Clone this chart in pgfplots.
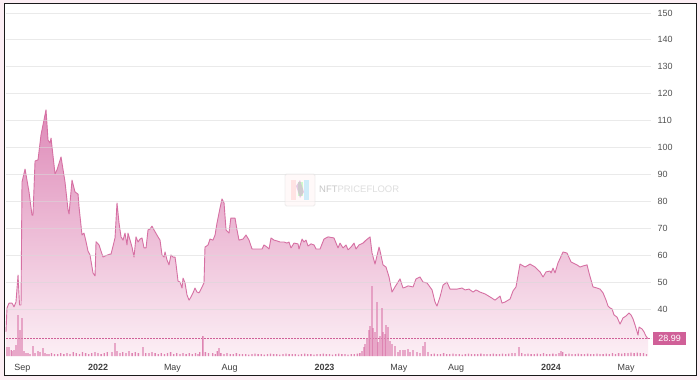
\documentclass[border=0pt]{standalone}
\usepackage{fontspec}
\setmainfont{Liberation Sans}
\usepackage{pgfplots}
\usepackage{pgfplotstable}
\pgfplotsset{compat=1.18}
\definecolor{linepink}{RGB}{214,112,163}
\definecolor{fillTop}{RGB}{222,138,184}
\definecolor{fillBot}{RGB}{252,239,245}
\definecolor{volpink}{RGB}{222,132,178}
\definecolor{tagpink}{RGB}{208,96,152}
\definecolor{bgpink}{RGB}{252,238,244}
\definecolor{framecol}{RGB}{26,26,26}

\pgfplotstableread{
day price
-148.3 31.5
-146.7 40.4
-143.4 42.2
-138.6 42.2
-135.4 40.8
-132.2 42.6
-128.9 52.6
-126.5 41.5
-124.1 41.5
-122.5 87.2
-117.6 92.0
-111.2 83.5
-106.4 74.9
-104.8 74.9
-101.5 95.0
-96.7 95.4
-91.9 104.7
-83.8 114.0
-80.6 102.8
-77.4 101.7
-75.7 103.5
-69.3 90.2
-66.1 91.7
-59.6 96.5
-53.2 87.2
-48.3 76.8
-46.7 75.3
-41.9 87.9
-37.1 83.5
-32.2 82.7
-30.6 77.9
-25.8 67.5
-22.6 68.2
-19.3 65.0
-16.1 61.5
-12.9 60.1
-8.1 53.4
-4.8 52.3
-3.2 65.0
1.6 63.8
8.1 59.3
11.3 59.7
19.3 60.4
21.0 60.4
27.4 66.4
30.6 79.4
33.8 72.0
37.1 66.8
40.3 65.6
43.5 68.2
46.7 63.8
48.3 68.2
51.6 65.6
54.8 63.0
58.0 59.3
61.2 66.8
64.5 64.9
67.7 66.0
70.9 66.4
74.1 62.7
77.4 62.7
80.6 69.4
83.8 69.7
87.0 70.8
90.2 69.4
96.7 66.8
99.9 65.6
103.1 60.1
106.4 59.3
108.0 61.2
111.2 58.2
114.4 56.4
117.6 60.1
120.9 59.3
124.1 59.3
125.7 56.7
128.9 50.4
132.2 50.0
135.4 47.8
137.0 51.5
140.2 49.7
143.4 45.2
146.7 43.3
149.9 44.5
153.1 46.0
156.3 47.8
159.5 46.3
162.8 46.0
166.0 47.4
170.8 49.7
172.4 63.0
177.3 63.8
180.5 66.0
185.3 65.6
188.6 67.5
191.8 72.0
196.6 77.5
199.8 80.9
203.1 79.4
206.3 69.4
211.1 68.2
214.0 73.8
220.8 73.8
224.0 69.4
227.2 65.6
233.7 66.0
238.5 67.5
243.4 65.6
248.2 62.3
264.3 62.3
267.5 63.8
272.4 63.0
275.6 62.3
278.8 66.4
283.6 65.6
288.5 65.3
293.3 64.9
299.8 64.9
304.6 64.5
307.8 64.9
311.0 62.7
315.9 64.5
322.3 64.2
323.9 62.3
328.8 66.0
332.0 64.9
335.2 65.6
338.4 63.4
343.3 64.2
348.1 63.8
351.3 62.3
357.8 62.3
364.2 66.0
370.7 66.8
380.3 66.4
383.6 64.5
386.8 62.7
390.0 64.5
394.8 62.7
399.7 63.8
402.9 62.0
407.7 63.0
412.6 64.5
415.8 62.3
420.6 63.8
427.1 64.5
431.9 65.6
438.4 66.8
441.6 60.8
446.4 56.7
452.9 63.0
454.5 61.6
459.3 56.4
464.1 55.6
469.0 51.9
473.8 46.3
478.6 48.2
486.7 51.2
491.5 47.8
496.4 48.2
499.6 48.6
507.7 48.2
512.5 51.2
518.9 51.9
523.8 50.0
530.2 49.7
538.3 47.1
543.1 42.6
546.3 41.1
551.2 44.5
556.0 48.9
562.4 50.0
567.3 47.4
578.6 47.4
586.6 47.8
591.5 47.1
597.9 47.4
604.4 46.3
609.2 47.1
615.6 46.3
623.7 45.6
631.7 44.5
639.8 43.3
647.9 44.8
651.1 42.2
655.9 42.6
664.0 43.7
668.8 46.7
673.6 48.2
680.1 56.7
688.2 55.6
696.2 56.7
704.3 55.6
712.3 53.8
717.2 51.9
722.0 53.8
728.4 54.1
730.1 53.4
733.3 55.2
736.5 53.4
741.3 57.1
749.4 61.2
755.8 60.8
762.3 57.5
771.9 56.4
776.8 55.6
781.6 56.0
788.1 56.4
791.3 53.4
797.7 48.2
804.2 47.8
809.0 47.4
813.9 46.0
818.7 43.3
821.9 41.1
825.2 40.4
828.4 40.0
831.6 37.8
836.4 37.0
841.3 34.4
846.1 36.7
850.9 37.4
855.8 38.5
859.0 37.8
862.2 36.3
865.4 34.1
870.3 30.3
871.9 33.3
876.7 32.6
879.9 31.5
883.1 29.9
886.4 28.99
}\pricetable

\pgfplotstableread{
day vol
-146.7 9
-143.4 9
-140.0 6
-138.6 5
-135.4 6
-132.2 11
-128.9 41
-125.7 26
-122.5 38
-119.3 5
-116.0 3
-112.8 3
-109.6 2
-104.8 10
-101.5 3
-96.7 5
-93.5 4
-88.6 8
-85.4 3
-82.2 2
-79.0 2
-75 3
-70 2
-65 2
-60 3
-55 2
-50 3
-45 2
-40 4
-35 3
-30 2
-25 4
-20 3
-15 2
-10 3
-5 4
0 3
5 2
10 3
15 4
22.6 4
27.4 13
30.6 5
35.5 3
40 4
45 3
50 5
55 3
60 4
65 3
72.5 9
77 3
82 3
87 4
92 3
97 2
102 3
107 2
112 3
117 4
122 2
127 3
132 2
137 3
142 2
147 3
152 2
157 3
161 2
164 4
169 20
173 4
178 3
185 3
189 2
192 5
195 8
198 3
203 2
208 3
213 2
218 2
223 3
228 2
233 2
238 2
243 1.5
248 2
253 2.5
258 2
263 2
268 1.5
273 2
278 2.5
283 2
288 2
293 1.5
298 2
303 2.5
308 2
313 2
318 2
323 1.5
328 2
333 2.5
338 2
343 2
348 1.5
353 2
358 2
363 2.5
368 2
373 2
378 1.5
383 2
388 2.5
393 2
398 2
403 1.5
408 2
413 2
418 2.5
422 3
425.5 5
428.7 9
430.3 12
433.5 18
436.7 26
438.4 30
441.6 70
443.2 28
446.4 24
449.6 54
451.2 14
454.5 20
457.7 48
459.3 24
462.5 22
464.1 31
467.4 29
470.6 15
473.8 12
478.6 10
483.5 4
486.7 6
491.5 6
494.8 6
499.6 7
502.8 4
507.7 6
514.1 4
518.9 3
523.8 10
527.0 14
531.8 4
537 2
542 2.5
547 2
552 2
557 3
562 2
567 2
572 2.5
577 2
582 2
587 1.5
592 2
597 2.5
602 2
607 2
612 2
617 2.5
622 2
627 2
632 2
637 2.5
642 2
647 2
652 2.5
657 2
662 2.5
667 3
672 3
678.5 9
683 3
688 2
693 2.5
698 2
703 2
708 2.5
713 2
718 3
723 2
728 2
733 2.5
738 2
743 3
746.2 5
749 4
754 2
759 2.5
764 2
769 2
774 2.5
779 2
784 2
789 2.5
794 2
799 2
804 2.5
809 2
814 2
819 2.5
824 2
829 3
834 2
839 3
844 2.5
849 3
854 3
859 3.5
864 3
869 3.5
874 3
879 3
884 2
}\voltable

\begin{document}
\begin{tikzpicture}[x=1bp,y=1bp]
\fill[bgpink] (0,0) rectangle (700,380);
\fill[white] (4.5,4.5) rectangle (696.5,376.5);

\begin{axis}[
  at={(6bp,24bp)}, anchor=south west, scale only axis,
  width=645bp, height=348.4bp,
  xmin=-148.3, xmax=891.2, ymin=22.54, ymax=152,
  clip=false,
  axis line style={draw=none},
  major tick length=0pt,
  /pgf/number format/assume math mode=true,
  ytick={40,50,...,150},
  yticklabel pos=right,
  yticklabel style={anchor=west, xshift=3bp, font=\fontsize{9}{10}\selectfont, text=black!68},
  xtick={-122,0,120,212,365,485,577,730,851},
  xticklabels={Sep,\textbf{2022},May,Aug,\textbf{2023},May,Aug,\textbf{2024},May},
  xticklabel style={anchor=base, yshift=-14bp, font=\fontsize{9}{10}\selectfont, text=black!75},
  ymajorgrids,
  grid style={color=gray!30, opacity=0.55, line width=0.8bp},
  axis on top,
]
\addplot[draw=none, top color=fillTop, bottom color=fillBot] table[x=day, y=price] {\pricetable} \closedcycle;
\addplot[linepink, line width=0.9bp, line join=round] table[x=day, y=price] {\pricetable};
\addplot[tagpink, line width=0.8bp, dash pattern=on 1.5bp off 1.5bp] coordinates {(-148.3,28.99) (891.2,28.99)};
\node[anchor=west, xshift=2bp, fill=tagpink, text=white, inner sep=0pt, minimum width=33bp, minimum height=13bp, font=\fontsize{9}{10}\selectfont] at (axis cs:891.2,28.99) {28.99};
\end{axis}

\begin{axis}[
  at={(6bp,24bp)}, anchor=south west, scale only axis,
  width=645bp, height=348.4bp,
  xmin=-148.3, xmax=891.2, ymin=0, ymax=348.4,
  hide axis,
]
\addplot[ybar, bar width=1.3bp, fill=volpink, draw=none] table[x=day, y=vol] {\voltable};
\end{axis}

% watermark
\begin{scope}[opacity=0.55]
\draw[rounded corners=1.5bp, draw=black!12, fill=pink!15, line width=0.8bp] (285,174) rectangle (315,206);
\fill[pink!70] (291,180) rectangle (296,200);
\fill[green!35] (298,184) rectangle (303,198);
\fill[cyan!35] (304,180) rectangle (309,200);
\fill[violet!35] (296,194) -- (300,200) -- (304,188) -- (300,182) -- cycle;
\end{scope}
\node[anchor=west, inner sep=0pt, font=\fontsize{9.5}{10}\selectfont] at (319,191) {\textcolor{black!22}{NFT}\textcolor{black!13}{PRICEFLOOR}};

\draw[framecol, line width=1.6bp] (4.5,4.5) rectangle (696.5,376.5);
\pgfresetboundingbox
\useasboundingbox (0,0) rectangle (700,380);
\end{tikzpicture}
\end{document}
